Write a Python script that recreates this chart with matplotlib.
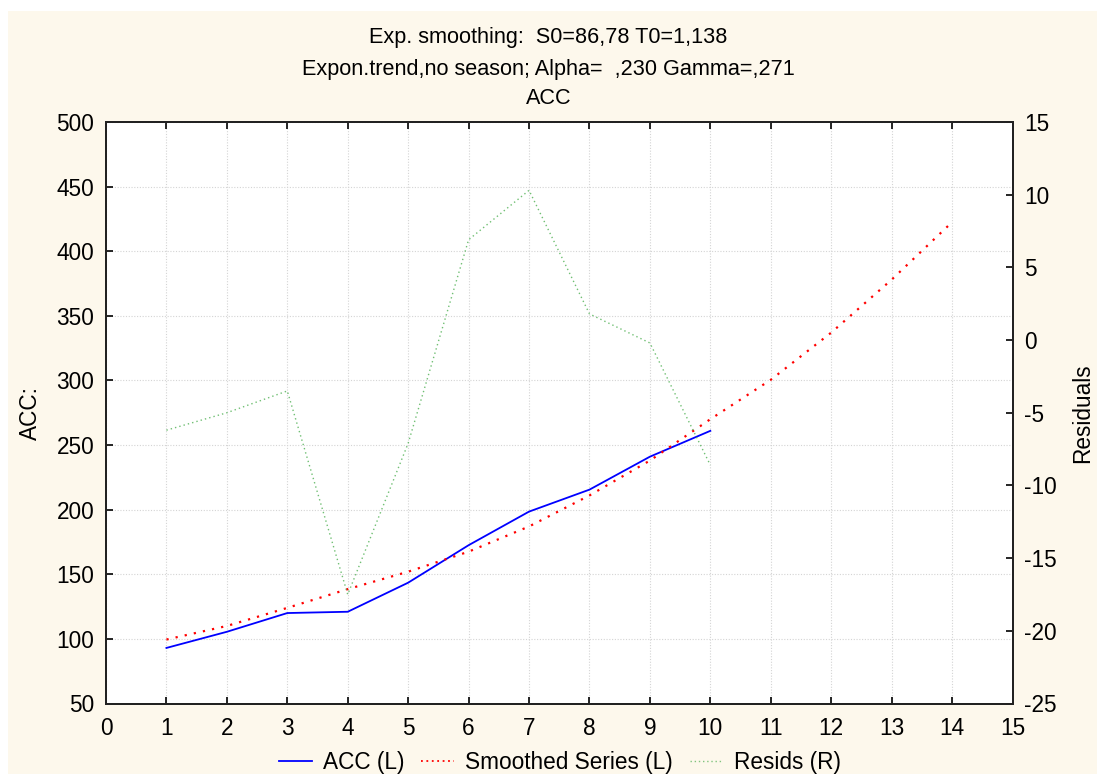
import matplotlib
matplotlib.use("Agg")
import matplotlib.pyplot as plt
from matplotlib.patches import Rectangle
from matplotlib.lines import Line2D

plt.rcParams['font.family'] = ['Liberation Sans', 'DejaVu Sans']
plt.rcParams['axes.unicode_minus'] = False

# ---- data ----
acc_x = [1, 2, 3, 4, 5, 6, 7, 8, 9, 10]
acc_y = [93, 105.5, 120, 121, 143.5, 172.5, 198.5, 215.5, 241, 261]
smooth_x = [1, 2, 3, 4, 5, 6, 7, 8, 9, 10, 11, 12, 13, 14]
smooth_y = [99.5, 110, 124, 138.5, 152, 167.5, 187, 211, 238, 270, 300.5, 337, 378, 422.5]
resid_x = [1, 2, 3, 4, 5, 6, 7, 8, 9, 10]
resid_y = [-6.2, -5.0, -3.5, -17.5, -7.1, 6.9, 10.3, 1.8, -0.2, -8.6]

x_ticks = list(range(0, 16))
left_ticks = [50, 100, 150, 200, 250, 300, 350, 400, 450, 500]
right_ticks = [-25, -20, -15, -10, -5, 0, 5, 10, 15]

title_lines = ["Exp. smoothing:  S0=86,78 T0=1,138",
               "Expon.trend,no season; Alpha=  ,230 Gamma=,271",
               "ACC"]

W, H = 1097, 774
fig = plt.figure(figsize=(W / 100, H / 100), dpi=100, facecolor='white')
cream = '#fdf8ec'
fig.patches.append(Rectangle((8 / W, 0), 1 - 8 / W, (H - 11) / H,
                             transform=fig.transFigure, facecolor=cream,
                             edgecolor='none', zorder=-10))

left, right, top, bottom = 106, 1012.5, 122, 703.5
ax = fig.add_axes([left / W, (H - bottom) / H, (right - left) / W, (bottom - top) / H])
ax.set_facecolor('white')

FS = 16.3
TFS = 15.6
ax.plot(acc_x, acc_y, color='#0000ff', lw=1.3, solid_joinstyle='round')
ax.plot(smooth_x, smooth_y, color='#ff0000', lw=1.6, linestyle=(0, (1, 3.2)))

ax.set_xlim(0, 15)
ax.set_ylim(50, 500)
ax.set_xticks(x_ticks)
ax.set_yticks(left_ticks)
ax.grid(True, color='#d4d4d4', linestyle=(0, (1, 1.5)), lw=0.8)
ax.tick_params(axis='both', direction='in', length=5, width=1.2, labelsize=FS, pad=8.5)
ax.tick_params(axis='x', top=True, pad=10)
ax.set_ylabel("ACC:", fontsize=FS, labelpad=10)
for s in ax.spines.values():
    s.set_linewidth(1.4)
    s.set_color('#222222')

ax2 = ax.twinx()
ax2.plot(resid_x, resid_y, color='#4caf50', lw=1.0, linestyle=(0, (1, 2.2)), alpha=0.8)
ax2.set_ylim(-25, 15)
ax2.set_yticks(right_ticks)
ax2.tick_params(axis='y', direction='in', length=5, width=1.2, labelsize=FS, pad=8.5)
ax2.set_ylabel("Residuals", fontsize=FS, labelpad=10)
for s in ax2.spines.values():
    s.set_linewidth(1.4)
    s.set_color('#222222')

# titles
for txt, ypx in zip(title_lines, [38, 70, 98]):
    fig.text(0.5, 1 - ypx / H, txt, ha='center', va='center', fontsize=TFS)

handles = [Line2D([], [], color='#0000ff', lw=1.3),
           Line2D([], [], color='#ff0000', lw=1.3, linestyle=(0, (1, 2))),
           Line2D([], [], color='#4caf50', lw=1.0, linestyle=(0, (1, 2)), alpha=0.7)]
fig.legend(handles, ["ACC (L)", "Smoothed Series (L)", "Resids (R)"],
           loc='center', bbox_to_anchor=(560 / W, 1 - 762 / H), ncol=3, frameon=False,
           fontsize=FS, handlelength=1.46, columnspacing=0.75, handletextpad=0.49)

fig.savefig("out.png", dpi=100, facecolor='white')
